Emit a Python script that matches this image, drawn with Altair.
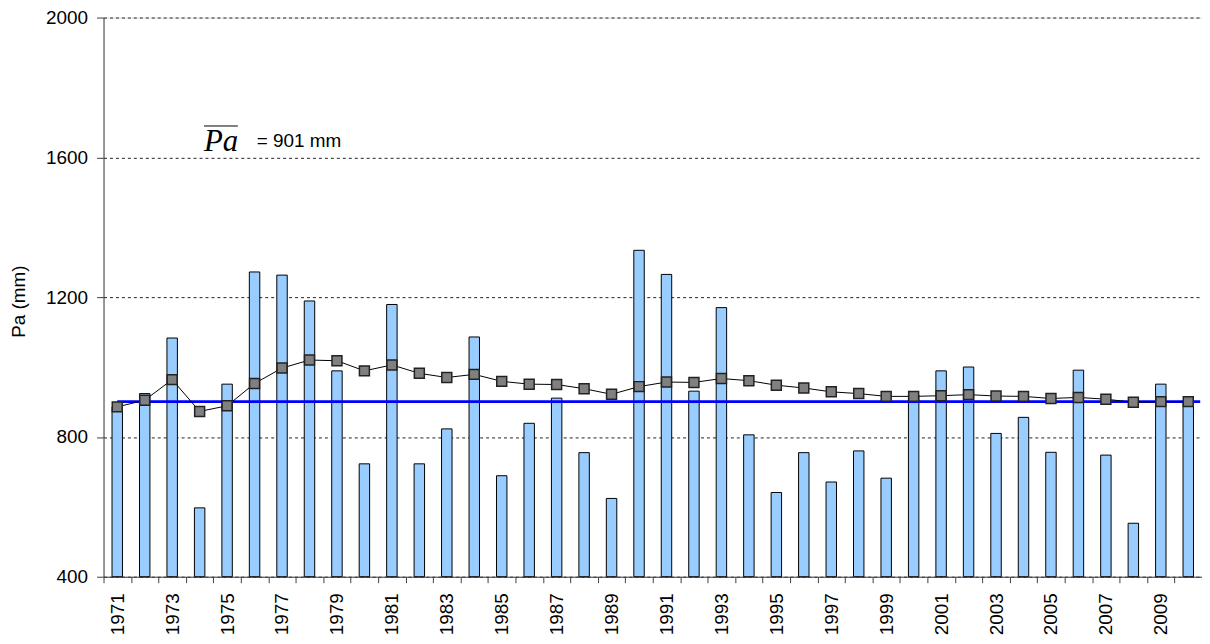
import altair as alt
import pandas as pd

years = list(range(1971, 2011))
pa_values = [886, 924, 1083, 597, 951, 1272, 1263, 1189, 989, 723,
             1179, 723, 823, 1086, 689, 839, 911, 755, 624, 1334,
             1265, 931, 1170, 806, 641, 755, 671, 760, 682, 920,
             989, 1000, 810, 856, 756, 991, 748, 553, 951, 905]
running_mean = [886, 905, 964, 873, 889, 953, 997, 1020, 1018, 989,
                1006, 982, 970, 979, 959, 951, 950, 938, 922, 944,
                957, 956, 967, 961, 948, 940, 929, 924, 916, 916,
                918, 921, 917, 916, 910, 913, 908, 899, 901, 901]
mean_pa = 901
y_ticks = [400, 800, 1200, 1600, 2000]
y_title = "Pa (mm)"
mean_label = f"= {mean_pa} mm"

df = pd.DataFrame({"year": years, "pa": pa_values, "mean": running_mean})
FONT = "Arial, Liberation Sans, sans-serif"

x_enc = alt.X(
    "year:O",
    scale=alt.Scale(paddingInner=0, paddingOuter=0),
    axis=alt.Axis(
        title=None, labelAngle=270, tickBand="extent",
        labelExpr="datum.value % 2 == 1 ? datum.label : ''",
        labelOverlap=False, labelFontSize=19, labelFont=FONT, labelColor="black",
        labelPadding=10, tickSize=6, tickColor="#404040", domainColor="#404040",
        grid=False,
    ),
)

y_scale = alt.Scale(domain=[400, 2000], zero=False, nice=False)
y_axis = alt.Axis(
    values=y_ticks, format="d", title=y_title, grid=True, gridDash=[3, 3], gridColor="#222222",
    gridWidth=1, labelFontSize=19, labelFont=FONT, labelColor="black",
    labelPadding=9, tickSize=7, tickColor="#404040", domainColor="#404040",
    titleFontSize=19, titleFont=FONT, titleFontWeight="normal", titleColor="black",
    titleAngle=270, titleBaseline="middle", titleX=-85, titleY=285,
)

base = alt.Chart(df)

bars = base.mark_bar(width=10.5, fill="#99CCFF", stroke="black", strokeWidth=1).encode(
    x=x_enc,
    y=alt.Y("pa:Q", scale=y_scale, axis=y_axis, title=y_title),
    y2=alt.datum(400),
)

mean_rule = alt.Chart(pd.DataFrame({"a": [1971], "b": [2010], "m": [mean_pa]})).mark_rule(
    color="#0000FF", strokeWidth=3, x2Offset=12
).encode(
    x=alt.X("a:O"), x2="b:O",
    y=alt.Y("m:Q", scale=y_scale, title=y_title),
)

line = base.mark_line(color="black", strokeWidth=1).encode(
    x=alt.X("year:O"),
    y=alt.Y("mean:Q", scale=y_scale, title=y_title),
)

points = base.mark_square(size=100, fill="#808080", stroke="#222222", strokeWidth=1.5, opacity=1).encode(
    x=alt.X("year:O"),
    y=alt.Y("mean:Q", scale=y_scale, title=y_title),
)

ann_df = pd.DataFrame({"sym": ["Pa"], "lab": [mean_label]})
ann_sym = alt.Chart(ann_df).mark_text(
    font="Liberation Serif, Times New Roman, serif", fontStyle="italic", fontSize=31,
    align="left", baseline="alphabetic", color="black"
).encode(x=alt.value(101), y=alt.value(134), text="sym:N")
ann_bar = alt.Chart(ann_df).mark_rule(color="black", strokeWidth=1).encode(
    x=alt.value(101), x2=alt.value(135), y=alt.value(109)
)
ann_lab = alt.Chart(ann_df).mark_text(
    font=FONT, fontSize=19, align="left", baseline="alphabetic", color="black"
).encode(x=alt.value(154), y=alt.value(130), text="lab:N")

chart = alt.layer(bars, mean_rule, line, points, ann_sym, ann_bar, ann_lab).properties(
    width=1104, height=562,
    autosize=alt.AutoSizeParams(type="none"),
    padding={"left": 96, "top": 8, "right": 0, "bottom": 60},
).configure_view(stroke=None).configure(background="white")

chart.save("out.html", embed_options={"renderer": "svg", "actions": False})
